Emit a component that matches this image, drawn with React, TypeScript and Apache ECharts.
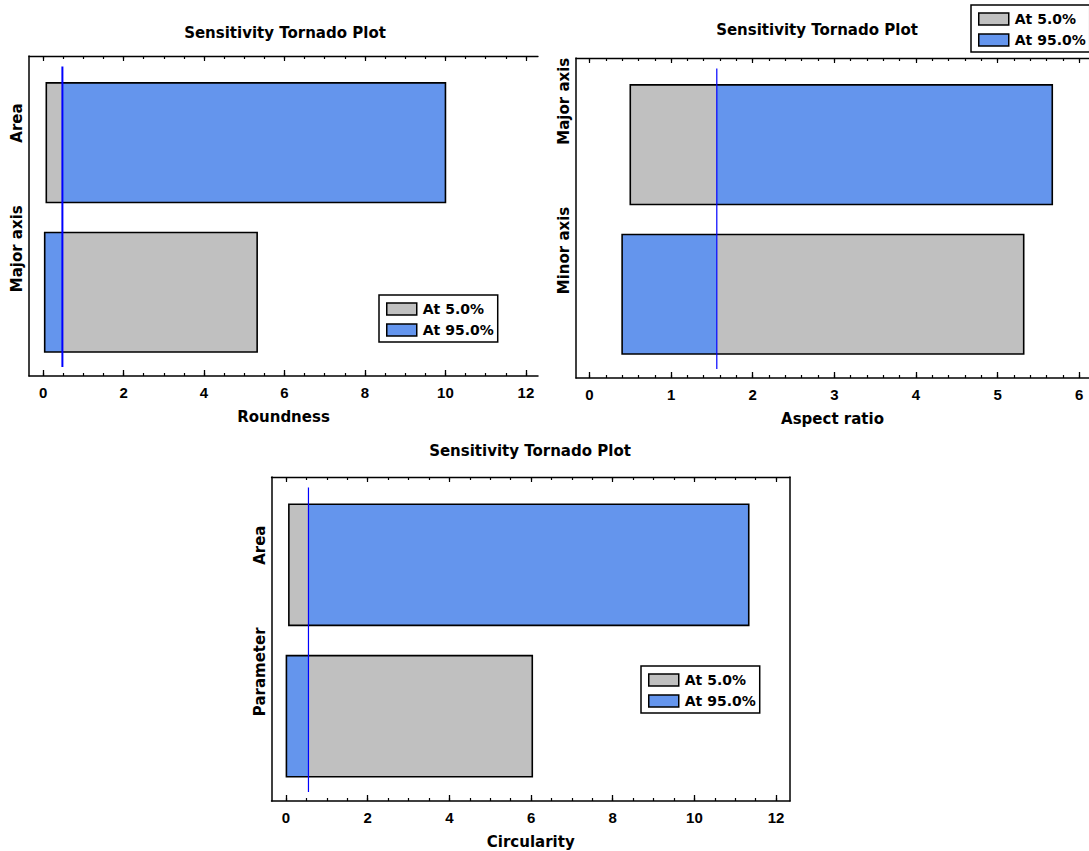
import React, { useEffect, useRef } from "react";
import * as echarts from "echarts";

// ---------------- data ----------------
const legendNames = ["At 5.0%", "At 95.0%"];
const titleText = "Sensitivity Tornado Plot";

// Panel 1: Roundness
const roundnessCategories = ["Area", "Major axis"];
const roundnessBase = 0.48;
const roundnessAt5 = [0.08, 5.32];
const roundnessAt95 = [10.0, 0.04];
const roundnessTicks = [0, 2, 4, 6, 8, 10, 12];

// Panel 2: Aspect ratio
const aspectCategories = ["Major axis", "Minor axis"];
const aspectBase = 1.56;
const aspectAt5 = [0.5, 5.32];
const aspectAt95 = [5.67, 0.4];
const aspectTicks = [0, 1, 2, 3, 4, 5, 6];

// Panel 3: Circularity
const circCategories = ["Area", "Parameter"];
const circBase = 0.55;
const circAt5 = [0.07, 6.03];
const circAt95 = [11.33, 0.01];
const circTicks = [0, 2, 4, 6, 8, 10, 12];

// ---------------- styling ----------------
const GREY = "#C0C0C0";
const BLUE = "#6495ED";
const BASE_LINE = "#0000FF";
const BAR_HALF = 0.4;
const Y_MIN = 0.42;
const Y_MAX = 2.56;
const LINE_Y = [0.49, 2.5];
const SANS = '"DejaVu Sans", "Liberation Sans", sans-serif';
const ARIAL = '"Liberation Sans", Arial, sans-serif';

function steps(from: number, to: number, step: number): number[] {
  const out: number[] = [];
  const n = Math.round((to - from) / step);
  for (let i = 0; i <= n; i++) out.push(+(from + i * step).toFixed(4));
  return out;
}

type PanelCfg = {
  categories: string[];
  base: number;
  at5: number[];
  at95: number[];
  ticks: number[];
  minorStep: number;
  xMin: number;
  xMax: number;
  name: string;
  grid: { left: number; top: number; width: number; height: number };
  legendPos: { left: number; top: number };
  title: { x: number; y: number };
  baseWidth: number;
  rightBorder: boolean;
};

const panels: PanelCfg[] = [
  {
    categories: roundnessCategories,
    base: roundnessBase,
    at5: roundnessAt5,
    at95: roundnessAt95,
    ticks: roundnessTicks,
    minorStep: 0.5,
    xMin: -0.35,
    xMax: 12.3,
    name: "Roundness",
    grid: { left: 29, top: 56, width: 509, height: 320 },
    legendPos: { left: 379, top: 295 },
    title: { x: 285, y: 33 },
    baseWidth: 2,
    rightBorder: false,
  },
  {
    categories: aspectCategories,
    base: aspectBase,
    at5: aspectAt5,
    at95: aspectAt95,
    ticks: aspectTicks,
    minorStep: 0.2,
    xMin: -0.165,
    xMax: 6.12,
    name: "Aspect ratio",
    grid: { left: 576, top: 58, width: 513, height: 320 },
    legendPos: { left: 971, top: 5 },
    title: { x: 817, y: 30 },
    baseWidth: 1.2,
    rightBorder: false,
  },
  {
    categories: circCategories,
    base: circBase,
    at5: circAt5,
    at95: circAt95,
    ticks: circTicks,
    minorStep: 0.5,
    xMin: -0.355,
    xMax: 12.34,
    name: "Circularity",
    grid: { left: 271.5, top: 477, width: 518.5, height: 324 },
    legendPos: { left: 641, top: 666 },
    title: { x: 530, y: 451 },
    baseWidth: 1.2,
    rightBorder: true,
  },
];

const makeRender = (fill: string, stroke: string | null, lw: number) => (_p: any, api: any) => {
  const a = api.value(0);
  const b = api.value(1);
  const y = api.value(2);
  const p0 = api.coord([Math.min(a, b), y - BAR_HALF]);
  const p1 = api.coord([Math.max(a, b), y + BAR_HALF]);
  return {
    type: "rect",
    shape: {
      x: p0[0],
      y: Math.min(p0[1], p1[1]),
      width: p1[0] - p0[0],
      height: Math.abs(p1[1] - p0[1]),
    },
    style: {
      fill,
      stroke: stroke || "rgba(0,0,0,0)",
      lineWidth: stroke ? lw : 0,
    },
  };
};

function buildOption() {
  const grid: any[] = [];
  const xAxis: any[] = [];
  const yAxis: any[] = [];
  const series: any[] = [];
  const legend: any[] = [];
  const graphic: any[] = [];

  panels.forEach((p, i) => {
    grid.push({ ...p.grid, containLabel: false, outerBoundsMode: "none" });
    const minor = steps(Math.ceil(p.xMin / p.minorStep) * p.minorStep, p.xMax, p.minorStep).filter(
      (v) => v >= p.xMin && v <= p.xMax
    );
    const common = { type: "value", gridIndex: i, min: p.xMin, max: p.xMax, splitLine: { show: false } };
    const xBase = xAxis.length;
    // bottom major axis with labels
    xAxis.push({
      ...common,
      position: "bottom",
      axisLine: { show: true, onZero: false, lineStyle: { color: "#000", width: 1.5 } },
      axisTick: {
        show: true,
        inside: true,
        length: 6,
        customValues: p.ticks,
        lineStyle: { color: "#000", width: 1.3 },
      },
      axisLabel: {
        show: true,
        customValues: p.ticks,
        margin: 9,
        color: "#000",
        fontFamily: ARIAL,
        fontWeight: "bold",
        fontSize: 15,
      },
      name: p.name,
      nameLocation: "middle",
      nameGap: 33,
      nameTextStyle: { color: "#000", fontFamily: SANS, fontWeight: "bold", fontSize: 15 },
    });
    // bottom minor ticks
    xAxis.push({
      ...common,
      position: "bottom",
      axisLine: { show: false, onZero: false },
      axisTick: { show: true, inside: true, length: 3, customValues: minor, lineStyle: { color: "#000", width: 1.2 } },
      axisLabel: { show: false },
    });
    // top major ticks + frame line
    xAxis.push({
      ...common,
      position: "top",
      axisLine: { show: true, onZero: false, lineStyle: { color: "#000", width: 1.3 } },
      axisTick: { show: true, inside: true, length: 5, customValues: p.ticks, lineStyle: { color: "#000", width: 1.2 } },
      axisLabel: { show: false },
    });
    // top minor ticks
    xAxis.push({
      ...common,
      position: "top",
      axisLine: { show: false, onZero: false },
      axisTick: { show: true, inside: true, length: 3, customValues: minor, lineStyle: { color: "#000", width: 1.2 } },
      axisLabel: { show: false },
    });

    const yBase = yAxis.length;
    yAxis.push({
      type: "value",
      gridIndex: i,
      inverse: true,
      min: Y_MIN,
      max: Y_MAX,
      position: "left",
      splitLine: { show: false },
      axisLine: { show: true, onZero: false, lineStyle: { color: "#000", width: 1.5 } },
      axisTick: { show: false },
      axisLabel: {
        show: true,
        customValues: p.categories.map((_c, k) => k + 1),
        formatter: (v: number) => p.categories[Math.round(v) - 1] || "",
        rotate: 90,
        align: "left",
        verticalAlign: "middle",
        margin: 12,
        color: "#000",
        fontFamily: SANS,
        fontWeight: "bold",
        fontSize: 15,
      },
    });
    if (p.rightBorder) {
      yAxis.push({
        type: "value",
        gridIndex: i,
        inverse: true,
        min: Y_MIN,
        max: Y_MAX,
        position: "right",
        splitLine: { show: false },
        axisLine: { show: true, onZero: false, lineStyle: { color: "#000", width: 1.5 } },
        axisTick: { show: false },
        axisLabel: { show: false },
      });
    }

    const at5Data = p.at5.map((v, k) => [v, p.base, k + 1]);
    const at95Data = p.at95.map((v, k) => [v, p.base, k + 1]);
    const outlineData = p.at5.map((v, k) => [v, p.at95[k], k + 1]);

    series.push({
      type: "custom",
      name: legendNames[0],
      xAxisIndex: xBase,
      yAxisIndex: yBase,
      renderItem: makeRender(GREY, null, 0),
      itemStyle: { color: GREY, borderColor: "#000", borderWidth: 1.5 },
      data: at5Data,
      encode: { x: [0, 1], y: 2 },
      z: 2,
      silent: true,
    });
    series.push({
      type: "custom",
      name: legendNames[1],
      xAxisIndex: xBase,
      yAxisIndex: yBase,
      renderItem: makeRender(BLUE, null, 0),
      itemStyle: { color: BLUE, borderColor: "#000", borderWidth: 1.5 },
      data: at95Data,
      encode: { x: [0, 1], y: 2 },
      z: 2,
      silent: true,
    });
    series.push({
      type: "custom",
      name: "outline",
      xAxisIndex: xBase,
      yAxisIndex: yBase,
      renderItem: makeRender("rgba(0,0,0,0)", "#000", 1.6),
      data: outlineData,
      encode: { x: [0, 1], y: 2 },
      z: 3,
      silent: true,
    });
    series.push({
      type: "line",
      name: "base",
      xAxisIndex: xBase,
      yAxisIndex: yBase,
      data: [
        [p.base, LINE_Y[0]],
        [p.base, LINE_Y[1]],
      ],
      symbol: "none",
      lineStyle: { color: BASE_LINE, width: p.baseWidth },
      z: 4,
      silent: true,
    });

    legend.push({
      data: legendNames,
      left: p.legendPos.left,
      top: p.legendPos.top,
      orient: "vertical",
      icon: "rect",
      itemWidth: 30,
      itemHeight: 12,
      itemGap: 7,
      padding: [7, 4, 5, 7],
      borderColor: "#000",
      borderWidth: 1.5,
      borderRadius: 0,
      backgroundColor: "#fff",
      selectedMode: false,
      itemStyle: { borderColor: "#000", borderWidth: 1.5 },
      textStyle: { color: "#000", fontFamily: SANS, fontWeight: "bold", fontSize: 14, padding: [0, 0, 0, 1] },
      z: 10,
    });

    graphic.push({
      type: "text",
      x: p.title.x,
      y: p.title.y,
      style: {
        text: titleText,
        fill: "#000",
        fontFamily: SANS,
        fontWeight: "bold",
        fontSize: 15,
        align: "center",
        verticalAlign: "middle",
        textAlign: "center",
        textVerticalAlign: "middle",
      },
    });
  });

  return {
    animation: false,
    backgroundColor: "#fff",
    grid,
    xAxis,
    yAxis,
    series,
    legend,
    graphic,
  };
}

export default function App() {
  const ref = useRef<HTMLDivElement>(null);
  useEffect(() => {
    if (!ref.current) return;
    const chart = echarts.init(ref.current, undefined, { renderer: "svg" });
    chart.setOption(buildOption() as any);
    return () => chart.dispose();
  }, []);
  return (
    <div
      ref={ref}
      style={{ position: "fixed", left: 0, top: 0, width: 1089, height: 851, background: "#fff" }}
    />
  );
}
